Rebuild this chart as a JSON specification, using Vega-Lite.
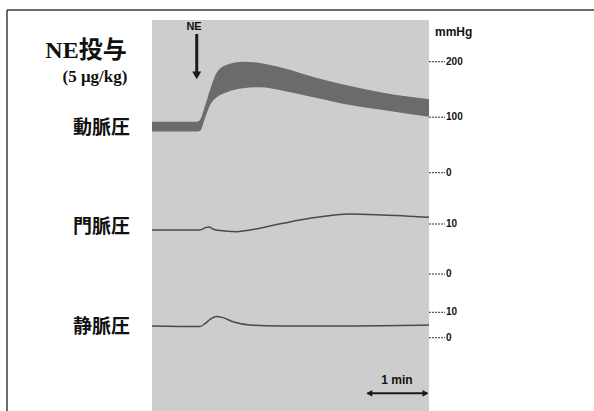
{
  "$schema": "https://vega.github.io/schema/vega-lite/v6.json",
  "width": 277,
  "height": 391,
  "autosize": {"type": "none"},
  "padding": {"left": 152, "top": 20, "right": 165, "bottom": 0},
  "background": "white",
  "config": {"view": {"fill": "#cdcdcd", "stroke": null}},
  "datasets": {
    "arterial": [
      {"t": 0, "sys": 91.9, "dia": 74.2},
      {"t": 0.714, "sys": 91.9, "dia": 74.2},
      {"t": 0.762, "sys": 95.0, "dia": 75.1},
      {"t": 0.841, "sys": 120.2, "dia": 98.0},
      {"t": 0.921, "sys": 149.0, "dia": 122.0},
      {"t": 1.027, "sys": 180.0, "dia": 136.0},
      {"t": 1.186, "sys": 194.5, "dia": 145.0},
      {"t": 1.444, "sys": 200.0, "dia": 152.0},
      {"t": 1.714, "sys": 197.7, "dia": 154.0},
      {"t": 2.079, "sys": 188.6, "dia": 147.7},
      {"t": 2.619, "sys": 170.6, "dia": 134.6},
      {"t": 3.143, "sys": 156.2, "dia": 122.0},
      {"t": 3.667, "sys": 144.1, "dia": 113.0},
      {"t": 4.397, "sys": 132.3, "dia": 100.9}
    ],
    "portal": [
      {"t": 0, "p": 8.8},
      {"t": 0.762, "p": 8.8},
      {"t": 0.857, "p": 9.3},
      {"t": 0.905, "p": 9.4},
      {"t": 0.984, "p": 8.9},
      {"t": 1.159, "p": 8.6},
      {"t": 1.349, "p": 8.46},
      {"t": 1.556, "p": 8.8},
      {"t": 2.079, "p": 10.14},
      {"t": 2.508, "p": 11.14},
      {"t": 3.143, "p": 12.0},
      {"t": 3.667, "p": 11.8},
      {"t": 4.397, "p": 11.34}
    ],
    "venous": [
      {"t": 0, "p": 4.6},
      {"t": 0.762, "p": 4.4},
      {"t": 0.841, "p": 5.5},
      {"t": 0.921, "p": 7.2},
      {"t": 1.027, "p": 8.3},
      {"t": 1.111, "p": 8.0},
      {"t": 1.286, "p": 6.3},
      {"t": 1.556, "p": 5.0},
      {"t": 2.032, "p": 4.6},
      {"t": 2.619, "p": 4.6},
      {"t": 3.619, "p": 4.7},
      {"t": 4.397, "p": 5.0}
    ],
    "ticks": [
      {"ch": "art", "v": 200, "label": "200"},
      {"ch": "art", "v": 100, "label": "100"},
      {"ch": "art", "v": 0, "label": "0"},
      {"ch": "por", "v": 10, "label": "10"},
      {"ch": "por", "v": 0, "label": "0"},
      {"ch": "ven", "v": 10, "label": "10"},
      {"ch": "ven", "v": 0, "label": "0"}
    ]
  },
  "layer": [
    {
      "layer": [
        {
          "data": {"name": "arterial"},
          "mark": {"type": "area", "color": "#6b6b6b", "interpolate": "monotone"},
          "encoding": {
            "x": {"field": "t", "type": "quantitative", "scale": {"domain": [0, 4.397], "nice": false, "zero": false}, "axis": null},
            "y": {"field": "sys", "type": "quantitative", "scale": {"domain": [-429.4, 275.1], "nice": false, "zero": false}, "axis": null},
            "y2": {"field": "dia"}
          }
        },
        {
          "data": {"values": [{}]},
          "mark": {"type": "rule", "color": "#3a3a3a", "strokeWidth": 1.5},
          "encoding": {"x": {"datum": -2.302}, "x2": {"datum": 7.1}, "y": {"datum": 293.2}}
        },
        {
          "data": {"values": [{}]},
          "mark": {"type": "rule", "color": "#3a3a3a", "strokeWidth": 1.5},
          "encoding": {"x": {"datum": -2.302}, "y": {"datum": 293.2}, "y2": {"datum": -429.4}}
        },
        {
          "data": {"values": [{}]},
          "mark": {"type": "rule", "color": "#1a1a1a", "strokeWidth": 3},
          "encoding": {"x": {"datum": 0.71}, "y": {"datum": 249.9}, "y2": {"datum": 180}}
        },
        {
          "data": {"values": [{}]},
          "mark": {"type": "point", "shape": "triangle-down", "filled": true, "color": "#1a1a1a", "size": 80, "opacity": 1},
          "encoding": {"x": {"datum": 0.71}, "y": {"datum": 175.5}}
        },
        {
          "data": {"values": [{"label": "NE"}]},
          "mark": {"type": "text", "font": "Liberation Sans", "fontWeight": "bold", "fontSize": 11, "color": "#111", "align": "center", "baseline": "middle"},
          "encoding": {"x": {"datum": 0.667}, "y": {"datum": 262.5}, "text": {"field": "label"}}
        },
        {
          "data": {"values": [{"label": "NE投与"}]},
          "mark": {"type": "text", "font": "Liberation Serif, Noto Sans CJK JP", "fontWeight": "bold", "fontSize": 24, "color": "#111", "align": "center", "baseline": "middle"},
          "encoding": {"x": {"datum": -1.048}, "y": {"datum": 219.5}, "text": {"field": "label"}}
        },
        {
          "data": {"values": [{"label": "(5 μg/kg)"}]},
          "mark": {"type": "text", "font": "Liberation Serif, Noto Sans CJK JP", "fontWeight": "bold", "fontSize": 17, "color": "#111", "align": "center", "baseline": "middle"},
          "encoding": {"x": {"datum": -0.905}, "y": {"datum": 172.4}, "text": {"field": "label"}}
        },
        {
          "data": {"values": [{"label": "mmHg"}]},
          "mark": {"type": "text", "font": "Liberation Sans", "fontWeight": "bold", "fontSize": 12, "color": "#111", "align": "left", "baseline": "middle"},
          "encoding": {"x": {"datum": 4.492}, "y": {"datum": 253.5}, "text": {"field": "label"}}
        },
        {
          "data": {"values": [{"label": "動脈圧"}]},
          "mark": {"type": "text", "font": "Noto Sans CJK JP", "fontWeight": "bold", "fontSize": 19, "color": "#111", "align": "right", "baseline": "middle"},
          "encoding": {"x": {"datum": -0.349}, "y": {"datum": 80.5}, "text": {"field": "label"}}
        },
        {
          "data": {"name": "ticks"},
          "transform": [{"filter": "datum.ch === 'art'"}],
          "layer": [
            {
              "mark": {"type": "rule", "color": "#333", "strokeWidth": 1, "strokeDash": [2, 1]},
              "encoding": {"x": {"datum": 4.397}, "x2": {"datum": 4.651}, "y": {"field": "v", "type": "quantitative"}}
            },
            {
              "mark": {"type": "text", "font": "Liberation Sans", "fontWeight": "bold", "fontSize": 10, "color": "#111", "align": "left", "baseline": "middle"},
              "encoding": {"x": {"datum": 4.667}, "y": {"field": "v", "type": "quantitative"}, "text": {"field": "label"}}
            }
          ]
        }
      ]
    },
    {
      "layer": [
        {
          "data": {"name": "portal"},
          "mark": {"type": "line", "color": "#4a4a4a", "strokeWidth": 1.5, "interpolate": "monotone"},
          "encoding": {
            "x": {"field": "t", "type": "quantitative", "scale": {"domain": [0, 4.397], "nice": false, "zero": false}, "axis": null},
            "y": {"field": "p", "type": "quantitative", "scale": {"domain": [-27.4, 50.8], "nice": false, "zero": false}, "axis": null}
          }
        },
        {
          "data": {"values": [{"label": "門脈圧"}]},
          "mark": {"type": "text", "font": "Noto Sans CJK JP", "fontWeight": "bold", "fontSize": 19, "color": "#111", "align": "right", "baseline": "middle"},
          "encoding": {"x": {"datum": -0.349}, "y": {"datum": 9.4}, "text": {"field": "label"}}
        },
        {
          "data": {"name": "ticks"},
          "transform": [{"filter": "datum.ch === 'por'"}],
          "layer": [
            {
              "mark": {"type": "rule", "color": "#333", "strokeWidth": 1, "strokeDash": [2, 1]},
              "encoding": {"x": {"datum": 4.397}, "x2": {"datum": 4.651}, "y": {"field": "v", "type": "quantitative"}}
            },
            {
              "mark": {"type": "text", "font": "Liberation Sans", "fontWeight": "bold", "fontSize": 10, "color": "#111", "align": "left", "baseline": "middle"},
              "encoding": {"x": {"datum": 4.667}, "y": {"field": "v", "type": "quantitative"}, "text": {"field": "label"}}
            }
          ]
        }
      ]
    },
    {
      "layer": [
        {
          "data": {"name": "venous"},
          "mark": {"type": "line", "color": "#4a4a4a", "strokeWidth": 1.5, "interpolate": "monotone"},
          "encoding": {
            "x": {"field": "t", "type": "quantitative", "scale": {"domain": [0, 4.397], "nice": false, "zero": false}, "axis": null},
            "y": {"field": "p", "type": "quantitative", "scale": {"domain": [-28.86, 125.08], "nice": false, "zero": false}, "axis": null}
          }
        },
        {
          "data": {"values": [{"label": "静脈圧"}]},
          "mark": {"type": "text", "font": "Noto Sans CJK JP", "fontWeight": "bold", "fontSize": 19, "color": "#111", "align": "right", "baseline": "middle"},
          "encoding": {"x": {"datum": -0.349}, "y": {"datum": 4.2}, "text": {"field": "label"}}
        },
        {
          "data": {"name": "ticks"},
          "transform": [{"filter": "datum.ch === 'ven'"}],
          "layer": [
            {
              "mark": {"type": "rule", "color": "#333", "strokeWidth": 1, "strokeDash": [2, 1]},
              "encoding": {"x": {"datum": 4.397}, "x2": {"datum": 4.651}, "y": {"field": "v", "type": "quantitative"}}
            },
            {
              "mark": {"type": "text", "font": "Liberation Sans", "fontWeight": "bold", "fontSize": 10, "color": "#111", "align": "left", "baseline": "middle"},
              "encoding": {"x": {"datum": 4.667}, "y": {"field": "v", "type": "quantitative"}, "text": {"field": "label"}}
            }
          ]
        },
        {
          "data": {"values": [{}]},
          "mark": {"type": "rule", "color": "#1a1a1a", "strokeWidth": 2},
          "encoding": {"x": {"datum": 3.42}, "x2": {"datum": 4.37}, "y": {"datum": -21.9}}
        },
        {
          "data": {"values": [{"shape": "triangle-left", "t": 3.45}, {"shape": "triangle-right", "t": 4.34}]},
          "mark": {"type": "point", "filled": true, "color": "#1a1a1a", "size": 45, "opacity": 1},
          "encoding": {
            "x": {"field": "t", "type": "quantitative"},
            "y": {"datum": -21.9},
            "shape": {"field": "shape", "type": "nominal", "scale": null, "legend": null}
          }
        },
        {
          "data": {"values": [{"label": "1 min"}]},
          "mark": {"type": "text", "font": "Liberation Sans", "fontWeight": "bold", "fontSize": 12, "color": "#111", "align": "center", "baseline": "middle"},
          "encoding": {"x": {"datum": 3.889}, "y": {"datum": -16.65}, "text": {"field": "label"}}
        }
      ]
    }
  ],
  "resolve": {"scale": {"y": "independent"}}
}
